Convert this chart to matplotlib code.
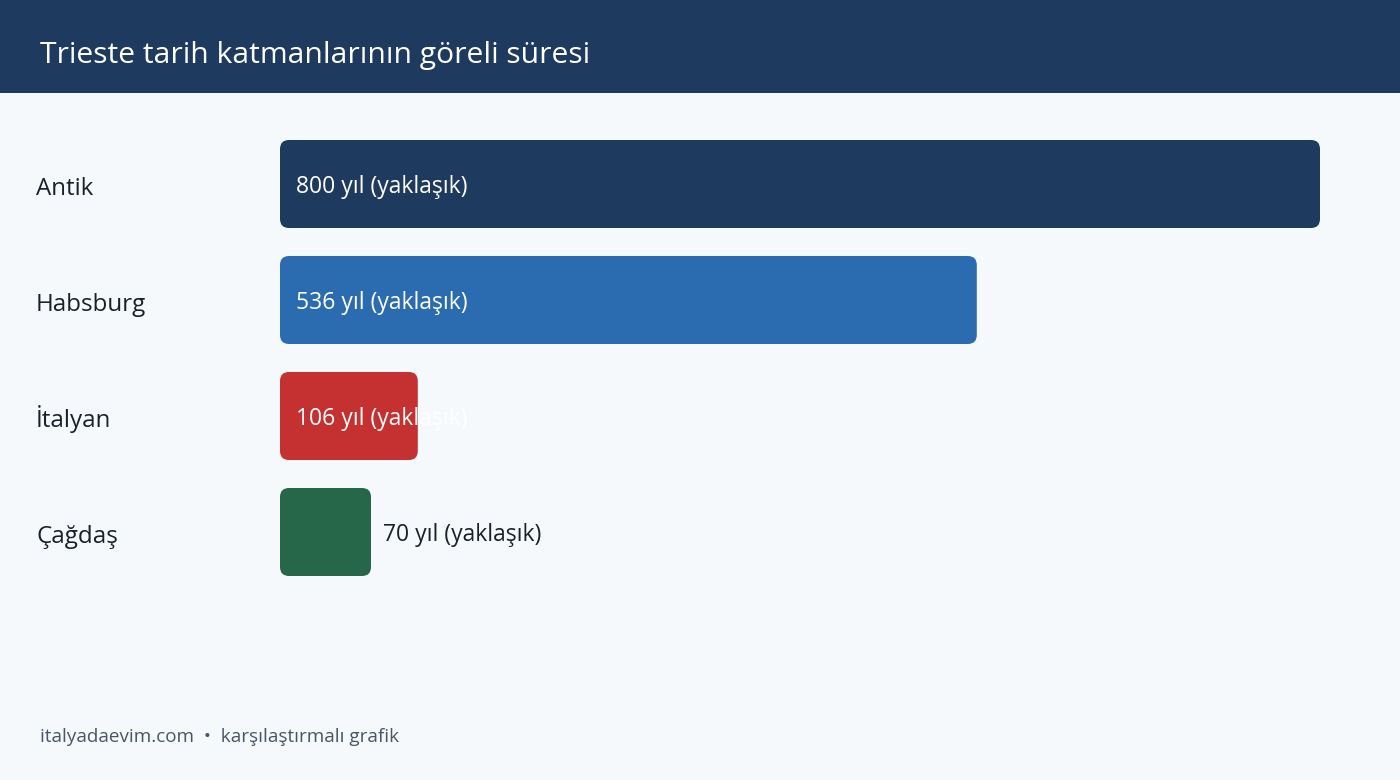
import matplotlib.pyplot as plt
from matplotlib.patches import FancyBboxPatch, Rectangle

plt.rcParams['font.family'] = ['Open Sans', 'DejaVu Sans']

# veri
donemler = ['Antik', 'Habsburg', 'İtalyan', 'Çağdaş']
sureler = [800, 536, 106, 70]
etiketler = ['800 yıl (yaklaşık)', '536 yıl (yaklaşık)', '106 yıl (yaklaşık)', '70 yıl (yaklaşık)']
renkler = ['#1f3a5f', '#2b6cb0', '#c53030', '#276749']
icerde = [True, True, True, False]

W, H = 1400, 780
fig = plt.figure(figsize=(W / 100, H / 100), dpi=100)
fig.patch.set_facecolor('#f5f9fc')

# ust bant
fig.patches.append(Rectangle((0, 1 - 93 / H), 1, 93 / H, transform=fig.transFigure,
                             facecolor='#1f3a5f', edgecolor='none', zorder=0))
fig.text(40 / W, 1 - 63 / H, 'Trieste tarih katmanlarının göreli süresi',
         color='white', fontsize=21.6, va='baseline', ha='left')

# cubuklar
ax = fig.add_axes([280 / W, 1 - 576 / H, 1040 / W, 436 / H])
ax.set_facecolor('none')
yuk = 88 / 116
ax.set_xlim(0, max(sureler))
ax.set_ylim(len(donemler) - 1 + yuk / 2, -yuk / 2)
bars = ax.barh(range(len(donemler)), sureler, height=yuk, color=renkler)

r_px = 9
px_x = 1040 / max(sureler)
r_x = r_px / px_x
r_y = r_px / 116
for b, c in zip(bars, renkler):
    x0, y0, w, h = b.get_x(), b.get_y(), b.get_width(), b.get_height()
    b.remove()
    ax.add_patch(FancyBboxPatch((x0, y0), w, h,
                                boxstyle=f'round,pad=0,rounding_size={r_x}',
                                mutation_aspect=r_y / r_x,
                                facecolor=c, edgecolor='none'))

for i, (d, v, e, ic) in enumerate(zip(donemler, sureler, etiketler, icerde)):
    yb = i + 9 / 116
    if ic:
        ax.text(16 / px_x, yb, e, color='white', fontsize=16.5, va='baseline', ha='left')
    else:
        ax.text(v + 12 / px_x, yb, e, color='#1a202c', fontsize=16.5, va='baseline',
                ha='left', clip_on=False)
    ax.text(-244 / px_x, i + 11 / 116, d, color='#1a202c', fontsize=17.4,
            va='baseline', ha='left', clip_on=False)

ax.axis('off')

fig.text(40 / W, 1 - 742 / H, 'italyadaevim.com  •  karşılaştırmalı grafik',
         color='#4a5568', fontsize=13.6, va='baseline', ha='left')

fig.savefig('out.png', dpi=100, facecolor=fig.get_facecolor())
